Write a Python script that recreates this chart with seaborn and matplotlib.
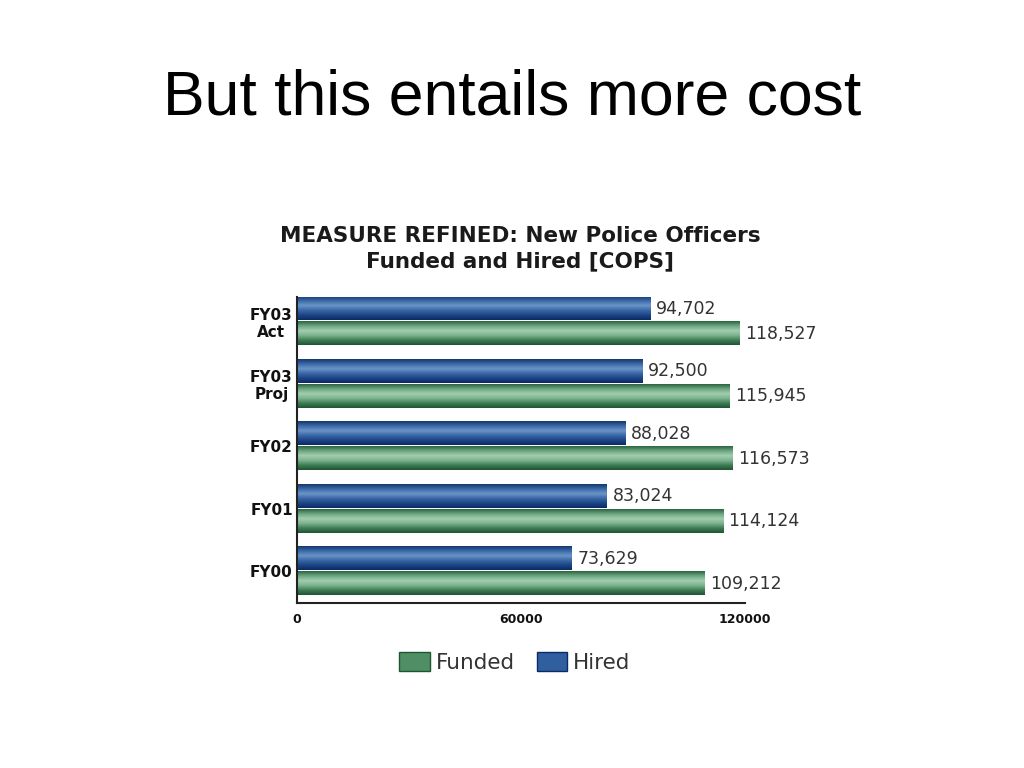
import numpy as np
import pandas as pd
import matplotlib
matplotlib.use("Agg")
import matplotlib.pyplot as plt
from matplotlib.patches import Patch
from matplotlib.colors import LinearSegmentedColormap
import seaborn as sns

# data
categories = ["FY03\nAct", "FY03\nProj", "FY02", "FY01", "FY00"]
hired = [94702, 92500, 88028, 83024, 73629]
funded = [118527, 115945, 116573, 114124, 109212]
series = ["Hired", "Funded"]
x_ticks = [0, 60000, 120000]

df = pd.DataFrame({
    "Year": categories * 2,
    "Officers": hired + funded,
    "Series": ["Hired"] * len(hired) + ["Funded"] * len(funded),
})

blue_mid = "#2f5f9e"
green_mid = "#4f8f63"
palette = {"Hired": blue_mid, "Funded": green_mid}

# vertical shading of the bars (top -> bottom)
blue_grad = LinearSegmentedColormap.from_list(
    "b", ["#14386f", "#3c6aa8", "#6a95c8", "#3a67a6", "#1d4586", "#0b2a66"])
green_grad = LinearSegmentedColormap.from_list(
    "g", ["#2a6440", "#6da883", "#a3cdb0", "#7ab38e", "#3f7d55", "#1f5534"])

sns.set_style("white")
plt.rcParams["font.family"] = ["DejaVu Sans"]
plt.rcParams["text.color"] = "#111111"

fig = plt.figure(figsize=(10.24, 7.68), dpi=100)
ax = fig.add_axes([0.290, 0.2148, 0.4375, 0.3984])

sns.barplot(data=df, x="Officers", y="Year", hue="Series", hue_order=series,
            order=categories, palette=palette, orient="h", width=0.8, gap=0.06,
            saturation=1, legend=False, ax=ax)

# gradient fill drawn over each bar
for cont, cmap in zip(ax.containers, [blue_grad, green_grad]):
    for bar in cont:
        x0, y0 = bar.get_x(), bar.get_y()
        w, h = bar.get_width(), bar.get_height()
        grad = np.linspace(0, 1, 64).reshape(-1, 1)
        ax.imshow(grad, cmap=cmap, aspect="auto", zorder=bar.get_zorder() + 0.1,
                  extent=[x0, x0 + w, y0 + h, y0], interpolation="bilinear")

for cont, vals in zip(ax.containers, [hired, funded]):
    ax.bar_label(cont, labels=[f"{v:,}" for v in vals], padding=4,
                 fontsize=12.5, color="#333333")

ax.set_xlim(0, 120000)
ax.set_ylim(4.512, -0.384)
ax.set_xticks(x_ticks)
ax.set_xticklabels([str(t) for t in x_ticks], fontsize=9, fontweight="bold",
                   color="#111111")
ax.set_yticks(range(len(categories)))
ax.set_yticklabels(categories, fontsize=11, fontweight="bold", linespacing=1.2,
                   color="#111111", multialignment="center")
ax.set_xlabel("")
ax.set_ylabel("")
ax.tick_params(axis="both", direction="in", length=5, width=1.5, color="#222222")
ax.tick_params(axis="x", pad=7)
ax.tick_params(axis="y", pad=3)
for s in ["top", "right"]:
    ax.spines[s].set_visible(False)
for s in ["left", "bottom"]:
    ax.spines[s].set_color("#222222")
    ax.spines[s].set_linewidth(1.5)

fig.text(0.5, 0.873, "But this entails more cost", ha="center", va="center",
         fontsize=45, family="Liberation Sans", color="black")
fig.text(0.508, 0.676, "MEASURE REFINED: New Police Officers\nFunded and Hired [COPS]",
         ha="center", va="center", fontsize=15.5, fontweight="bold",
         color="#1a1a1a", linespacing=1.3)

handles = [Patch(facecolor=green_mid, edgecolor="#1f5534"),
           Patch(facecolor=blue_mid, edgecolor="#0b2a66")]
fig.legend(handles, ["Funded", "Hired"], loc="center", ncol=2,
           bbox_to_anchor=(0.503, 0.138), frameon=False, fontsize=15.5,
           handlelength=1.4, handleheight=1.0, handletextpad=0.3,
           columnspacing=1.0, labelcolor="#333333")

fig.savefig("out.png", dpi=100)
